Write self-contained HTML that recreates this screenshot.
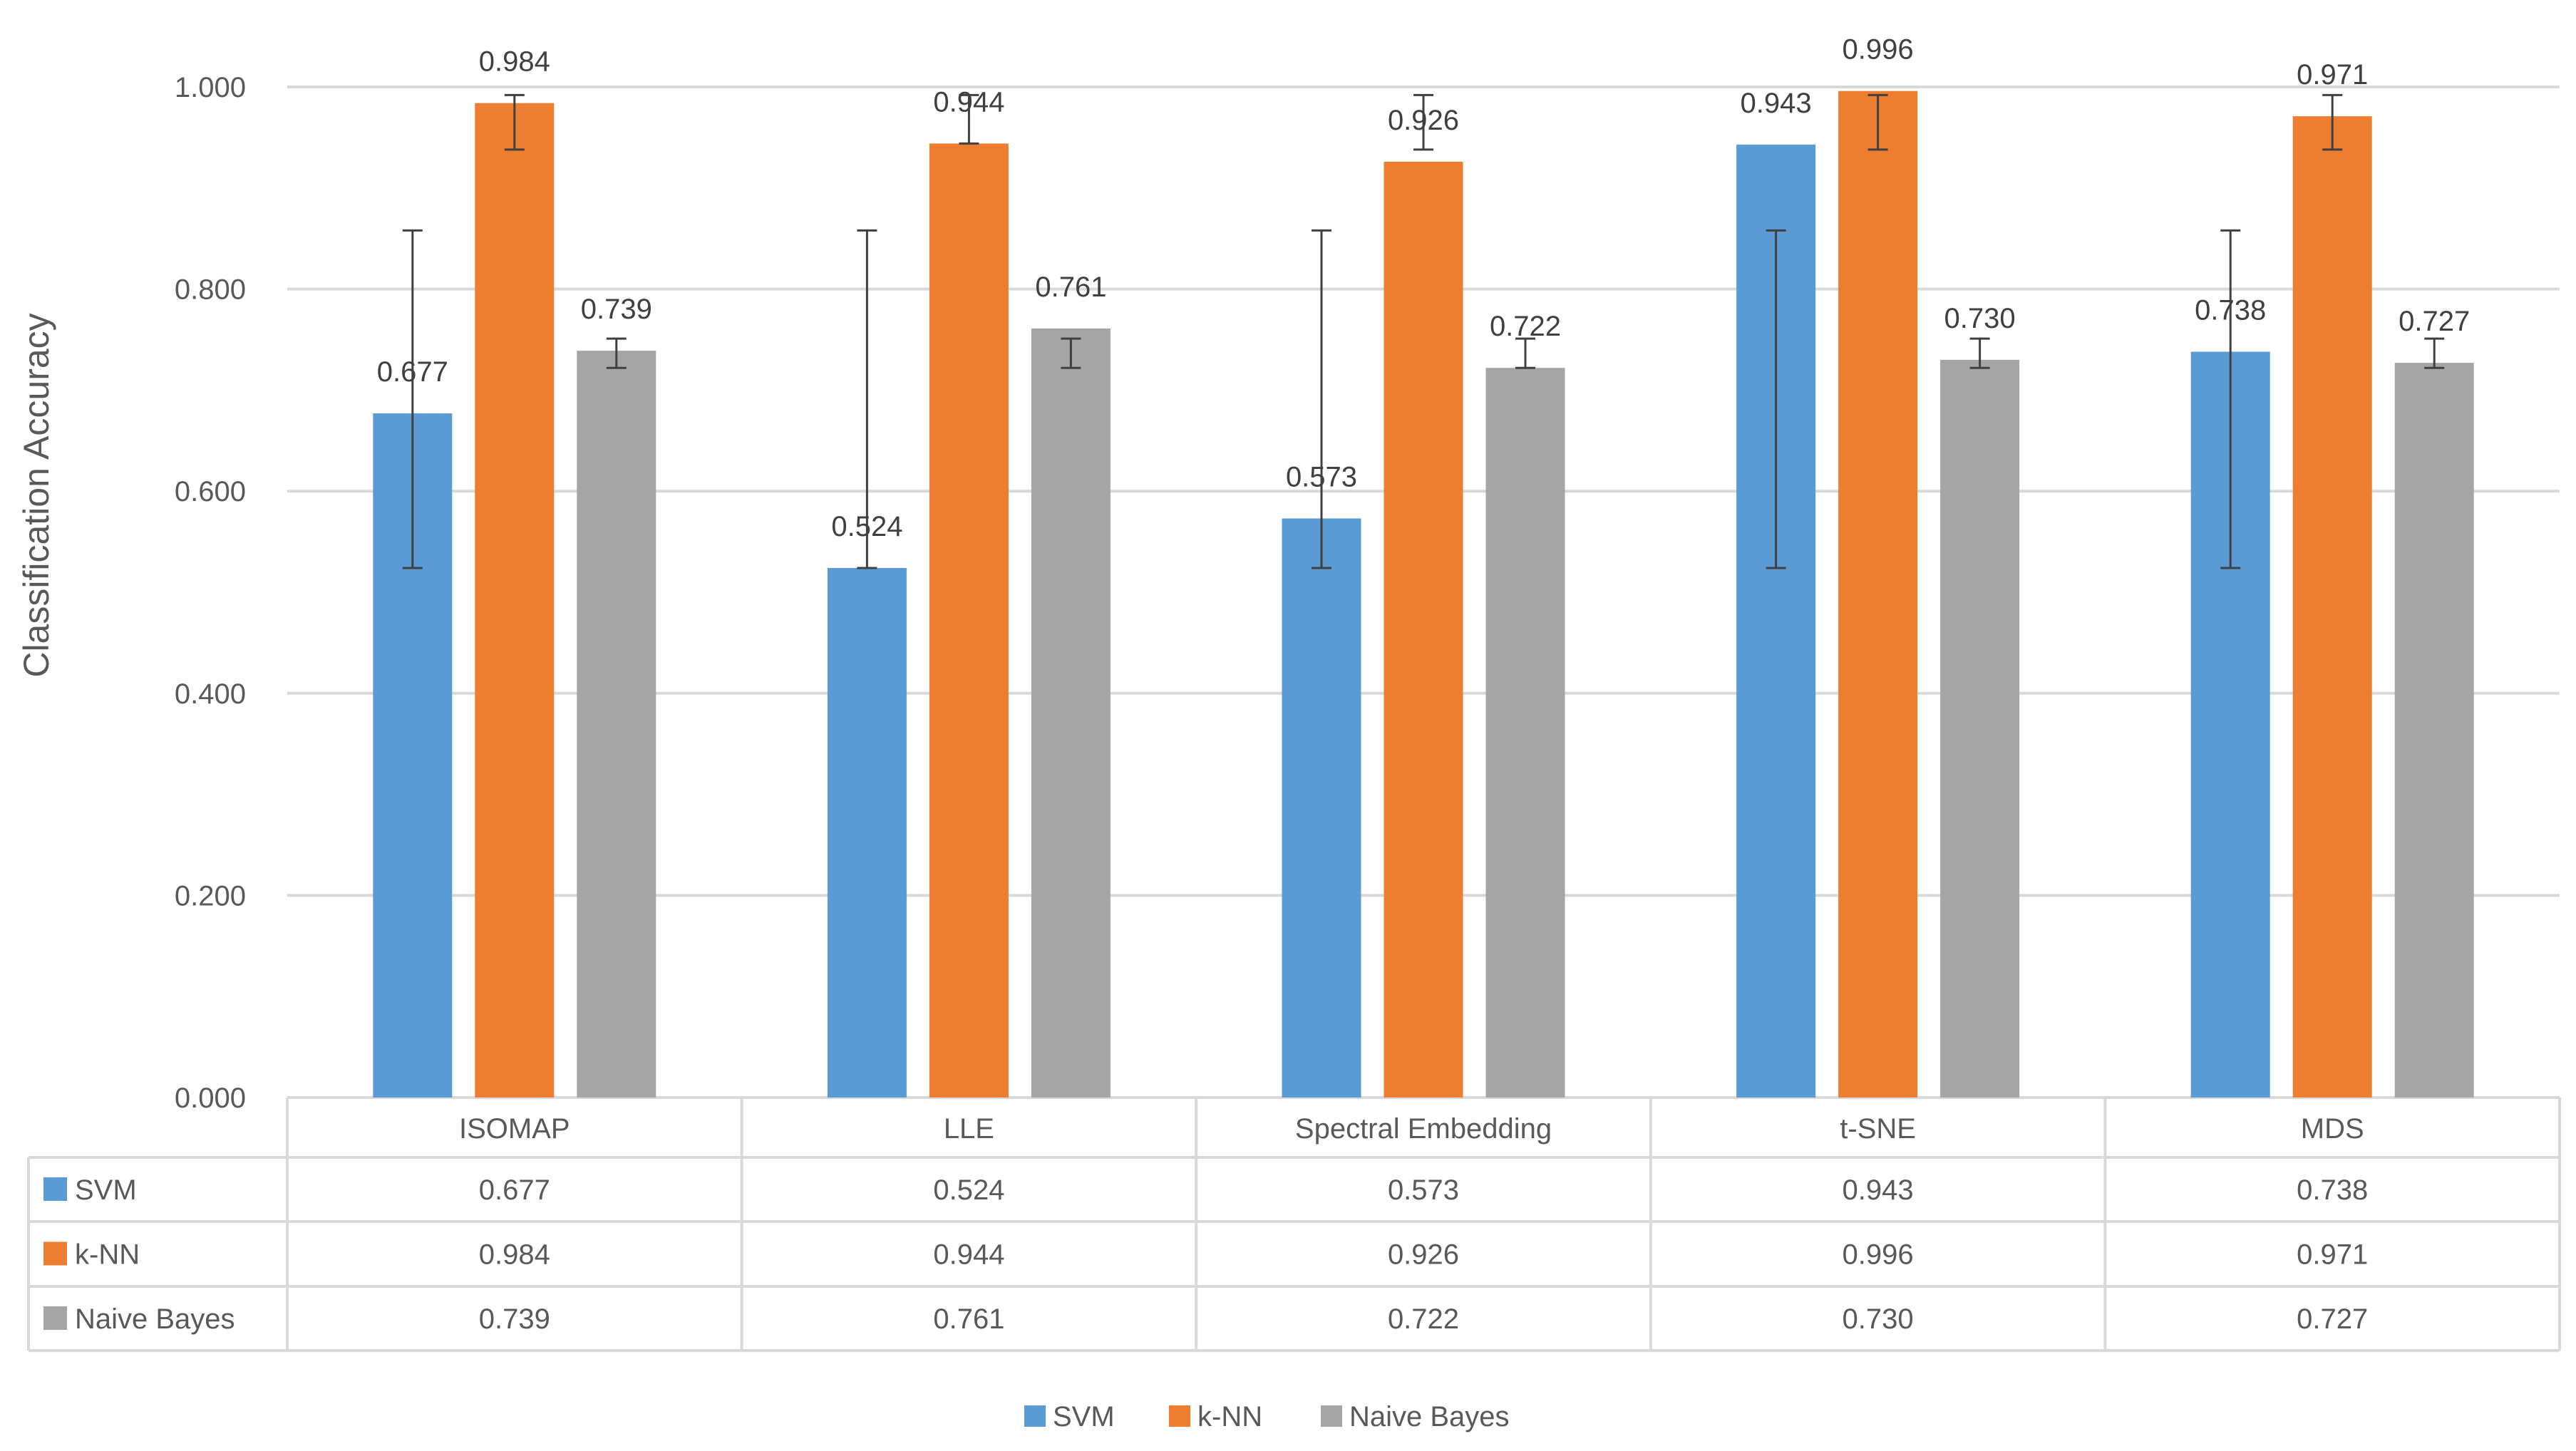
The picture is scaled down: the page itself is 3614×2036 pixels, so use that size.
<!DOCTYPE html>
<html><head><meta charset="utf-8"><style>
html,body{margin:0;padding:0;background:#fff;}
svg{display:block;font-family:"Liberation Sans",sans-serif;}
</style></head><body>
<svg id="chart" width="3614" height="2036" viewBox="0 0 3614 2036" xmlns="http://www.w3.org/2000/svg">
<rect width="3614" height="2036" fill="#fff"/>
<g id="grid"></g><g id="bars"></g><g id="table"></g><g id="legend"></g>
<text x="0" y="0" transform="translate(68,695) rotate(-90)" text-anchor="middle" font-size="50" fill="#595959">Classification Accuracy</text>
</svg>
<script>
const categories = ["ISOMAP","LLE","Spectral Embedding","t-SNE","MDS"];
const seriesNames = ["SVM","k-NN","Naive Bayes"];
const svmValues = [0.677,0.524,0.573,0.943,0.738];
const knnValues = [0.984,0.944,0.926,0.996,0.971];
const nbValues = [0.739,0.761,0.722,0.730,0.727];
const svmErrLow = [0.524,0.524,0.524,0.524,0.524];
const svmErrHigh = [0.858,0.858,0.858,0.858,0.858];
const knnErrLow = [0.938,0.944,0.938,0.938,0.938];
const knnErrHigh = [0.992,0.992,0.992,0.992,0.992];
const nbErrLow = [0.722,0.722,0.722,0.722,0.722];
const nbErrHigh = [0.751,0.751,0.751,0.751,0.751];
const yTicks = [0,0.2,0.4,0.6,0.8,1.0];
const yTickLabels = ["0.000","0.200","0.400","0.600","0.800","1.000"];

const NS="http://www.w3.org/2000/svg";
const colors=["#5B9BD5","#ED7D31","#A5A5A5"];
const series=[svmValues,knnValues,nbValues];
const errLow=[svmErrLow,knnErrLow,nbErrLow];
const errHigh=[svmErrHigh,knnErrHigh,nbErrHigh];
const plotL=403, plotR=3591, y0=1540, y1=122;
const catW=(plotR-plotL)/categories.length;
function yScale(v){return y0-(v/1.0)*(y0-y1);}
function xCenter(i){return plotL+catW*(i+0.5);}
function mk(tag,attrs,parent,text){const e=document.createElementNS(NS,tag);for(const k in attrs)e.setAttribute(k,attrs[k]);if(text!==undefined)e.textContent=text;parent.appendChild(e);return e;}
const grid=document.getElementById('grid'),bars=document.getElementById('bars'),table=document.getElementById('table'),legend=document.getElementById('legend');

yTicks.forEach((t,i)=>{
  const y=yScale(t);
  const l=mk('line',{x1:plotL,x2:plotR,y1:y,y2:y,stroke:'#D9D9D9','stroke-width':4},grid);
  
  
  const tx=mk('text',{x:345,y:y+14,'text-anchor':'end','font-size':40,fill:'#595959'},grid,yTickLabels[i]);
  
  
});

const barW=111, offs=[-143,0,143];
categories.forEach((c,i)=>{
  series.forEach((s,j)=>{
    const cx=xCenter(i)+offs[j], top=yScale(s[i]);
    const r=mk('rect',{x:cx-barW/2,y:top,width:barW,height:y0-top,fill:colors[j]},bars);
    
    
    const eh=yScale(errHigh[j][i]), el=yScale(errLow[j][i]);
    const g=mk('g',{stroke:'#404040','stroke-width':3},bars);
    
    
    mk('line',{x1:cx,x2:cx,y1:eh,y2:el},g);
    mk('line',{x1:cx-14,x2:cx+14,y1:eh,y2:eh},g);
    mk('line',{x1:cx-14,x2:cx+14,y1:el,y2:el},g);
    const lb=mk('text',{x:cx,y:top-45,'text-anchor':'middle','font-size':40,fill:'#404040'},bars,s[i].toFixed(3));
    
    
  });
});

const tL=40, rowY=[1540,1624,1714,1805,1895];
const lc='#D9D9D9';
for(let k=0;k<=categories.length;k++){
  const x=plotL+catW*k;
  mk('line',{x1:x,x2:x,y1:rowY[0],y2:rowY[4],stroke:lc,'stroke-width':4},table);
}
mk('line',{x1:tL,x2:tL,y1:rowY[1],y2:rowY[4],stroke:lc,'stroke-width':4},table);
for(let r=1;r<rowY.length;r++){
  mk('line',{x1:tL,x2:plotR,y1:rowY[r],y2:rowY[r],stroke:lc,'stroke-width':4},table);
}
categories.forEach((c,i)=>{
  const t=mk('text',{x:xCenter(i),y:rowY[0]+57,'text-anchor':'middle','font-size':40,fill:'#595959'},table,c);
  
  
});
series.forEach((s,j)=>{
  const cy=(rowY[j+1]+rowY[j+2])/2;
  const sq=mk('rect',{x:61,y:cy-17,width:33,height:33,fill:colors[j]},table);
  
  
  const nm=mk('text',{x:105,y:cy+14,'font-size':40,fill:'#595959'},table,seriesNames[j]);
  
  
  s.forEach((v,i)=>{
    const t=mk('text',{x:xCenter(i),y:cy+14,'text-anchor':'middle','font-size':40,fill:'#595959'},table,v.toFixed(3));
    
    
  });
});

const legX=[1437,1640,1853];
seriesNames.forEach((n,j)=>{
  const g=mk('g',{},legend);
  
  
  mk('rect',{x:legX[j],y:1972,width:30,height:30,fill:colors[j]},g);
  mk('text',{x:legX[j]+40,y:2001,'font-size':40,fill:'#595959'},g,n);
});
</script>
</body></html>
